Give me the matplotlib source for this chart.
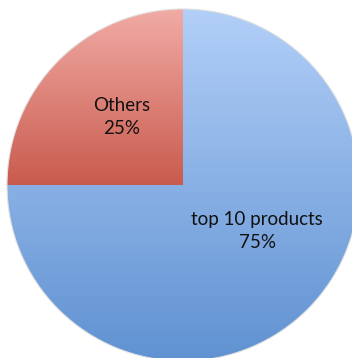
import numpy as np
import matplotlib.pyplot as plt
from matplotlib.colors import LinearSegmentedColormap

labels = ["top 10 products", "Others"]
shares = [75, 25]
# gradient colours per slice (top, bottom)
grads = [("#b2cff8", "#5f91d1"), ("#f1aba5", "#c95b4e")]

W, H = 352, 358
fig = plt.figure(figsize=(W / 100, H / 100), dpi=100)
ax = fig.add_axes([0, 0, 1, 1])

cx, cy, r = 183, H - 185, 176

wedges, _ = ax.pie(shares, startangle=90, counterclock=False, radius=r,
                   center=(cx, cy), frame=True,
                   wedgeprops=dict(linewidth=0, edgecolor="none"))
ax.set_xlim(0, W)
ax.set_ylim(0, H)
ax.set_aspect("auto")
ax.axis("off")

grad = np.linspace(0, 1, 256).reshape(-1, 1)
for w, (top, bot) in zip(wedges, grads):
    w.set_facecolor("none")
    # gradient runs over the slice's own vertical extent
    ys = w.get_patch_transform().transform(w.get_path().vertices)[:, 1]
    y0, y1 = ys.min(), ys.max()
    cmap = LinearSegmentedColormap.from_list("g", [bot, top])
    im = ax.imshow(grad, cmap=cmap, origin="lower", aspect="auto",
                   extent=(cx - r, cx + r, y0, y1), zorder=1)
    im.set_clip_path(w)

# faint outline
circ = plt.Circle((cx, cy), r, fill=False, ec="#e0e0e0", lw=0.8, zorder=2)
ax.add_patch(circ)

txt = dict(ha="center", va="center", fontsize=13.5, family="Lato",
           color="#111111", linespacing=1.4, zorder=3)
ax.text(257, H - 231, f"{labels[0]}\n{shares[0]}%", **txt)
ax.text(122, H - 117, f"{labels[1]}\n{shares[1]}%", **txt)

fig.savefig("out.png", dpi=100)
